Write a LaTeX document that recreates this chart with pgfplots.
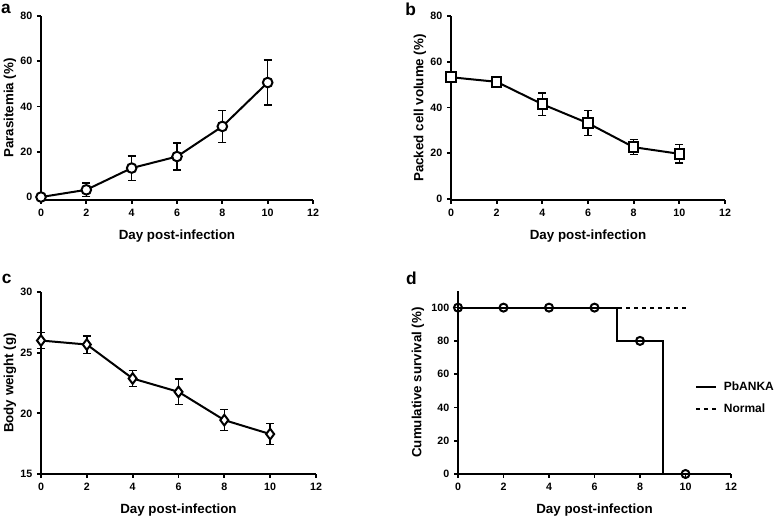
\documentclass[border=0pt]{standalone}
\usepackage{fontspec}
\setmainfont{Liberation Sans}
\usepackage{pgfplots}
\usepackage{pgfplotstable}
\pgfplotsset{compat=1.18}

\pgfplotstableread{
day val err
0 0 0
2 3.2 3
4 12.8 5.4
6 17.9 6
8 31.2 7
10 50.6 10
}\para
\pgfplotstableread{
day val err
0 53.2 0
2 51.2 0
4 41.4 4.9
6 33.1 5.5
8 22.6 3.3
10 19.7 4
}\pcv
\pgfplotstableread{
day val err
0 26.0 0.65
2 25.67 0.72
4 22.87 0.68
6 21.77 1.05
8 19.44 0.87
10 18.29 0.88
}\bw

\pgfplotsset{
  panel/.style={
    scale only axis,
    anchor=south west,
    axis lines=left,
    axis line style={-, line width=1.5pt},
    tick align=outside,
    major tick length=3pt,
    tick style={line width=1.3pt, black},
    xmin=0, xmax=12,
    xtick={0,2,...,12},
    tick label style={font=\bfseries\fontsize{8}{9}\selectfont},
    /pgf/number format/assume math mode=true,
    label style={font=\bfseries\fontsize{10}{12}\selectfont},
    xlabel={Day post-infection},
    xlabel style={yshift=-3pt},
    ylabel style={at={(axis description cs:0,0.5)}, anchor=center},
    clip=false,
  },
  errs/.style={black, draw=none, no marks,
    error bars/y dir=both, error bars/y explicit,
    error bars/error bar style={line width=1.1pt, solid},
    error bars/error mark options={rotate=90, mark size=3pt, line width=1.1pt}},
  ser/.style={black, line width=1.5pt, mark options={solid, fill=white, draw=black, line width=1.5pt}},
}

\begin{document}
\begin{tikzpicture}
\useasboundingbox (0,0) rectangle (582.75pt,387pt);

% a
\begin{axis}[panel, at={(30.75pt,237pt)}, width=204pt, height=138pt,
  ymin=-1.3, ymax=80, ytick={0,20,...,80}, ylabel={Parasitemia (\%)},
  ylabel style={yshift=23.25pt}]
\addplot[errs] table[x=day, y=val, y error=err] {\para};
\addplot[ser, mark=*, mark size=3.6pt] table[x=day, y=val] {\para};
\end{axis}

% b
\begin{axis}[panel, at={(338.25pt,237pt)}, width=205.5pt, height=138pt,
  ymin=-0.5, ymax=80, ytick={0,20,...,80}, ylabel={Packed cell volume (\%)},
  ylabel style={yshift=23.25pt}]
\addplot[errs] table[x=day, y=val, y error=err] {\pcv};
\addplot[ser, mark=square*, mark size=3.6pt] table[x=day, y=val] {\pcv};
\end{axis}

% c
\begin{axis}[panel, at={(30.75pt,31.5pt)}, width=206.25pt, height=136.5pt,
  ymin=15, ymax=30, ytick={15,20,25,30}, ylabel={Body weight (g)},
  ylabel style={yshift=23.25pt}]
\addplot[errs] table[x=day, y=val, y error=err] {\bw};
\addplot[ser, mark=diamond*, mark size=4pt] table[x=day, y=val] {\bw};
\end{axis}

% d
\begin{axis}[panel, at={(343.5pt,31.5pt)}, width=204.75pt, height=137.25pt,
  ymin=0, ymax=110, ytick={0,20,...,100}, ylabel={Cumulative survival (\%)},
  ylabel style={yshift=30pt},
  legend image code/.code={\draw[#1] (0pt,0pt) -- (15pt,0pt); \path (20pt,0pt);},
  legend style={draw=none, fill=none, at={(0.868,0.415)}, anchor=west,
    inner sep=0pt, nodes={inner sep=0pt},
    font=\bfseries\fontsize{9}{12}\selectfont, row sep=8pt},
  legend cell align=left]
\addplot[black, line width=1.5pt, const plot, no marks] coordinates {
  (0,100) (7,80) (9,0) (10,0)
};
\addlegendentry{PbANKA}
\addplot[black, line width=1.5pt, dashed, no marks] coordinates {
  (0,100) (10,100)
};
\addlegendentry{Normal}
\addplot[black, only marks, mark=o, mark size=3pt, mark options={line width=1.5pt}, forget plot] coordinates {
  (0,100) (2,100) (4,100) (6,100) (8,80) (10,0)
};
\end{axis}

\node[font=\bfseries\fontsize{13}{14}\selectfont] at (4.5pt,380pt) {a};
\node[font=\bfseries\fontsize{13}{14}\selectfont] at (308pt,380pt) {b};
\node[font=\bfseries\fontsize{13}{14}\selectfont] at (5pt,178pt) {c};
\node[font=\bfseries\fontsize{13}{14}\selectfont] at (308.5pt,178.5pt) {d};
\end{tikzpicture}
\end{document}
